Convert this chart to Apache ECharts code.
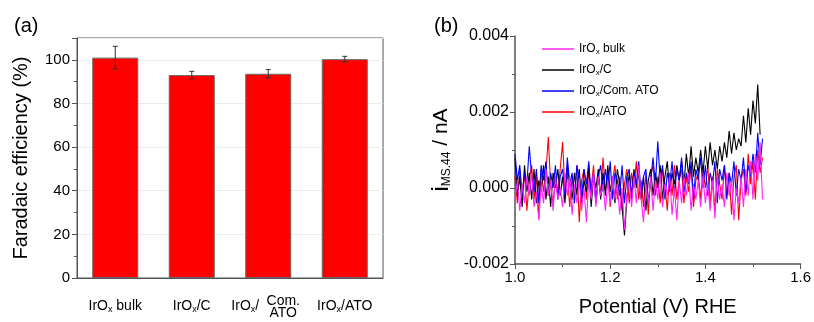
<!DOCTYPE html>
<html>
<head>
<meta charset="utf-8">
<script src="https://cdn.jsdelivr.net/npm/echarts@6/dist/echarts.min.js"></script>
<style>html,body{margin:0;padding:0;background:#fff}#c{width:814px;height:322px}</style>
</head>
<body>
<div id="c"></div>
<script>
// ---- Panel (a) data ----
const categories = ['IrOx bulk', 'IrOx/C', 'IrOx/Com. ATO', 'IrOx/ATO'];
const efficiency = [101.0, 93.0, 93.6, 100.3];
const efficiencyErr = [5.2, 1.7, 1.9, 1.3];
const effTicks = [0, 20, 40, 60, 80, 100];

// ---- Panel (b) data ----
const seriesNames = ['IrOx bulk', 'IrOx/C', 'IrOx/Com. ATO', 'IrOx/ATO'];
const potential = [
1.000,1.005,1.010,1.015,1.020,1.025,1.030,1.035,1.040,1.045,
1.050,1.055,1.060,1.065,1.070,1.075,1.080,1.085,1.090,1.095,
1.100,1.105,1.110,1.115,1.120,1.125,1.130,1.135,1.140,1.145,
1.150,1.155,1.160,1.165,1.170,1.175,1.180,1.185,1.190,1.195,
1.200,1.205,1.210,1.215,1.220,1.225,1.230,1.235,1.240,1.245,
1.250,1.255,1.260,1.265,1.270,1.275,1.280,1.285,1.290,1.295,
1.300,1.305,1.310,1.315,1.320,1.325,1.330,1.335,1.340,1.345,
1.350,1.355,1.360,1.365,1.370,1.375,1.380,1.385,1.390,1.395,
1.400,1.405,1.410,1.415,1.420,1.425,1.430,1.435,1.440,1.445,
1.450,1.455,1.460,1.465,1.470,1.475,1.480,1.485,1.490,1.495,
1.500,1.505,1.510,1.515,1.520];
const iBulk = [
-0.0003,0.0002,-0.0006,0.0001,-0.0004,0.0003,-0.0002,0.0004,-0.0005,-0.0001,
-0.00085,0.0001,-0.0004,0.0005,-0.0002,0.0002,-0.0006,0.0003,-0.0003,0,
-0.0005,0.0004,-0.0002,0.0003,-0.0007,0.0001,-0.0004,0.00025,-0.0006,0,
-0.0009,0.0002,-0.0003,0.0004,-0.0005,0.0003,-0.0002,0.0001,-0.0006,0.0002,
-0.0004,0.0003,-0.0003,0.0001,-0.0007,0,-0.0011,-0.0002,0.0002,-0.0005,
0.0003,-0.0004,0.0006,-0.0003,-0.0009,0.0001,-0.0004,0.0003,-0.0006,0.0002,
-0.0003,0.0004,-0.0005,0.0001,-0.0002,0.0003,-0.0007,0,-0.00085,0.0002,
-0.0004,0.0003,-0.0002,0.0004,-0.0006,0.0001,-0.0003,0.0002,-0.0005,0.0003,
-0.0004,0.0001,-0.0006,0.0002,-0.0008,0.0003,-0.0003,0.0001,-0.0005,0.0004,
-0.0002,0.0002,-0.00085,0,-0.0004,0.0003,-0.0005,0.0005,-0.0002,0.0007,
-0.0003,0.0009,0.0002,0.0012,-0.0003];
const iC = [
0.0008,-0.0002,0.0003,-0.0005,0.0006,-0.0001,0.0004,-0.0003,0.0005,-0.0004,
0.0002,-0.0001,0.0006,-0.0003,0.0003,-0.0005,0.0004,0,0.0005,-0.0002,
0.0003,-0.0004,0.0006,0.0001,-0.0003,0.0004,-0.0002,0.0005,-0.0004,0.0002,
-0.0001,0.0006,-0.0005,0.0003,0,0.0005,-0.0003,0.0004,-0.0002,0.0006,
-0.0001,0.0003,-0.0004,0.0005,0.0001,-0.0005,-0.00125,-0.0003,0.0004,-0.0002,
0.0005,0,0.0004,-0.0003,0.0003,-0.0006,0.0002,0.0005,-0.0002,0.0004,
0,0.0006,-0.0003,0.0003,0.0007,-0.0001,0.0004,0.0001,0.0006,0.0002,
0.0007,0.0001,0.0009,0.0003,0.0011,0.0003,0.0008,0.0004,0.001,0.0004,
0.0011,0.0005,0.0012,0.0006,0.001,0.0005,0.0011,0.0007,0.0012,0.0008,
0.0015,0.0009,0.00145,0.001,0.0013,0.0011,0.0019,0.0012,0.0021,0.0014,
0.0023,0.0017,0.00272,0.0014,null];
const iComATO = [
0.0009,0.0002,0.0006,-0.0002,0.0004,0.0001,0.0011,0.0003,-0.0001,0.0005,
-0.0004,0.0006,0.0002,0.0007,-0.0002,0.0004,0,0.0006,-0.0003,0.0003,
0.0005,-0.0002,0.0008,0.0001,0.0004,-0.0004,0.0006,0.0002,-0.0003,0.0005,
0.0001,0.0007,-0.0002,0.0004,-0.0004,0.0003,0.0006,-0.0001,0.0005,0,
0.0007,-0.0003,0.0004,0.0002,-0.0002,0.0006,-0.0004,0.0003,0.0005,-0.0003,
0.0004,0.0001,0.0007,-0.0002,0.0003,0.0005,-0.0004,0.0002,0.0008,0.0001,
0.00123,0.0002,0.0006,-0.0003,0.0004,0.0001,0.0007,-0.0002,0.0005,0.0002,
0.0008,-0.0001,0.0004,0.0001,0.0007,-0.0003,0.0005,0.0002,0.0008,0,
0.0006,-0.0002,0.0004,0.0001,0.0007,-0.0004,0.0005,0.0002,0.0006,-0.0003,
0.0004,0.0001,0.0007,-0.0002,0.0005,0.0002,0.0008,-0.0001,0.0006,0.0003,
0.0009,0.0004,0.00145,0.0006,0.0013];
const iATO = [
0.0003,-0.0004,0.0005,-0.0002,0.0004,-0.0006,0.0002,0.0006,-0.0003,0.0003,
-0.0008,0.0005,-0.0001,0.0004,0.00134,0,-0.0004,0.0003,-0.0002,0.0005,
0.00121,-0.0001,0.0004,-0.0005,0.0003,-0.0002,0.0006,-0.0009,0.0002,0.0005,
-0.0003,0.0004,0,0.0006,-0.0004,0.0003,-0.0002,0.0008,-0.0001,0.0004,
-0.0005,0.0002,0.0006,-0.0003,0.0003,-0.0006,0.0001,0.0005,-0.0004,0.0004,
0,0.0007,-0.0003,0.0002,-0.0005,0.0004,-0.0007,0.0003,0.0006,-0.0002,
0.0003,-0.0004,0.0005,0.0001,-0.0006,0.0004,-0.0002,0.0006,-0.0003,0.0002,
0.0005,-0.0004,0.0003,-0.0001,0.0006,-0.0005,0.0002,0.0004,-0.0003,0.0005,
0,0.0006,-0.0004,0.0003,-0.0006,0.0005,0.0001,-0.0003,0.0006,-0.0002,
0.0004,-0.0007,0.0003,0.0006,-0.00085,0.0002,0.0005,-0.0002,0.0009,0.0001,
0.0007,-0.0003,0.001,0.0004,0.0008];
const lineColors = ['#ff22ff', '#000000', '#0000ff', '#ff0000'];

const FONT = '"Liberation Sans", Arial, sans-serif';
const AX = '#555';

function zip(xs, ys) { return xs.map((x, i) => [x, ys[i]]); }
function subX(name, key) {
  const rest = name.replace(/^IrOx/, '');
  return '{' + key + '|IrO}{s|x}{' + key + '|' + rest + '}';
}

const chart = echarts.init(document.getElementById('c'), null, { renderer: 'canvas' });

const lineData = [iBulk, iC, iComATO, iATO];
const lineSeries = [3, 1, 2, 0].map(k => ({
  type: 'line', name: seriesNames[k], xAxisIndex: 2, yAxisIndex: 1,
  data: zip(potential, lineData[k]), symbol: 'none', showSymbol: false,
  connectNulls: false, animation: false, z: 2 + (k === 0 ? 3 : 0),
  lineStyle: { width: 1.1, color: lineColors[k] }, itemStyle: { color: lineColors[k] }
}));

const option = {
  animation: false,
  textStyle: { fontFamily: FONT, color: '#000' },
  title: [
    { text: '(a)', left: 9, top: 11, textStyle: { fontSize: 20, fontWeight: 'normal', fontFamily: FONT, color: '#000' } },
    { text: '(b)', left: 429, top: 11, textStyle: { fontSize: 20, fontWeight: 'normal', fontFamily: FONT, color: '#000' } }
  ],
  grid: [
    { left: 77, right: 431, top: 38, bottom: 44, show: true, borderColor: AX, borderWidth: 1, containLabel: false },
    { left: 515, right: 11, top: 36, bottom: 54, containLabel: false }
  ],
  legend: {
    data: seriesNames.map(n => ({ name: n, icon: 'rect' })), orient: 'vertical', left: 537, top: 38,
    itemWidth: 32, itemHeight: 1.5, itemGap: 8,
    formatter: n => subX(n, 'n'),
    textStyle: {
      fontFamily: FONT, fontSize: 12, color: '#000',
      rich: {
        n: { fontSize: 12, lineHeight: 14, fontFamily: FONT },
        s: { fontSize: 8, lineHeight: 9, verticalAlign: 'bottom', fontFamily: FONT }
      }
    }
  },
  xAxis: [
    {
      type: 'category', gridIndex: 0, data: categories,
      axisLine: { lineStyle: { color: AX, width: 1 } },
      axisTick: { alignWithLabel: true, length: 5, lineStyle: { color: AX } },
      splitLine: { show: false },
      axisLabel: {
        margin: 20, color: '#000', interval: 0,
        formatter: v => v.indexOf('Com.') >= 0 ? '{n|IrO}{s|x}{p|/}' : subX(v, 'n'),
        rich: {
          n: { fontSize: 14, lineHeight: 16, fontFamily: FONT, color: '#000' },
          p: { fontSize: 14, lineHeight: 16, fontFamily: FONT, color: '#000', padding: [0, 46, 0, 0] },
          s: { fontSize: 9, lineHeight: 9, verticalAlign: 'bottom', fontFamily: FONT, color: '#000' }
        }
      }
    },
    {
      type: 'category', gridIndex: 0, data: categories, position: 'bottom',
      axisLine: { show: false }, axisTick: { show: false }, splitLine: { show: false },
      axisLabel: {
        margin: 17, interval: 0, color: '#000',
        formatter: v => v.indexOf('Com.') >= 0 ? '{c|' + v.split('/')[1].split(' ').join('}\n{c|') + '}' : '',
        rich: { c: { fontSize: 14, lineHeight: 12, fontFamily: FONT, color: '#000', padding: [0, 0, 0, 30] } }
      }
    },
    {
      type: 'value', gridIndex: 1, min: 1.0, max: 1.6, interval: 0.2,
      name: 'Potential (V) RHE', nameLocation: 'middle', nameGap: 33,
      nameTextStyle: { fontSize: 20, fontFamily: FONT, color: '#000' },
      axisLine: { onZero: false, lineStyle: { color: AX, width: 1.5 } },
      axisTick: { length: 5, lineStyle: { color: AX } },
      minorTick: { show: true, splitNumber: 2, length: 3, lineStyle: { color: AX } },
      splitLine: { show: false },
      axisLabel: { fontSize: 15, color: '#000', margin: 6, formatter: v => v.toFixed(1), showMaxLabel: true }
    }
  ],
  yAxis: [
    {
      type: 'value', gridIndex: 0, min: 0, max: 110, interval: 20,
      name: 'Faradaic efficiency (%)', nameLocation: 'middle', nameGap: 46,
      nameTextStyle: { fontSize: 20, fontFamily: FONT, color: '#000' },
      axisLine: { show: true, lineStyle: { color: AX, width: 1 } },
      axisTick: { show: true, length: 5, lineStyle: { color: AX } },
      minorTick: { show: true, splitNumber: 2, length: 3, lineStyle: { color: AX } },
      splitLine: { show: true, lineStyle: { color: '#ececec', width: 1 } },
      axisLabel: { fontSize: 15, color: '#000', margin: 7, showMaxLabel: false,
        formatter: v => effTicks.indexOf(v) >= 0 ? String(v) : '' }
    },
    {
      type: 'value', gridIndex: 1, min: -0.002, max: 0.004, interval: 0.002,
      name: '{i|i}{sub|MS.44}{t| / nA}', nameLocation: 'middle', nameGap: 62,
      nameTextStyle: {
        fontFamily: FONT, color: '#000',
        rich: {
          i: { fontSize: 24, lineHeight: 24, fontFamily: FONT, color: '#000' },
          sub: { fontSize: 12, lineHeight: 12, verticalAlign: 'bottom', fontFamily: FONT, color: '#000' },
          t: { fontSize: 21, lineHeight: 24, fontFamily: FONT, color: '#000' }
        }
      },
      axisLine: { show: true, onZero: false, lineStyle: { color: AX, width: 1.5 } },
      axisTick: { show: true, length: 5, lineStyle: { color: AX } },
      minorTick: { show: true, splitNumber: 2, length: 3, lineStyle: { color: AX } },
      splitLine: { show: false },
      axisLabel: { fontSize: 16, color: '#000', margin: 6, formatter: v => v.toFixed(3) }
    }
  ],
  series: [
    {
      type: 'bar', xAxisIndex: 0, yAxisIndex: 0, data: efficiency, barWidth: 46,
      itemStyle: { color: '#ff0000', borderColor: '#666', borderWidth: 1 }, z: 2
    },
    {
      type: 'custom', xAxisIndex: 0, yAxisIndex: 0, z: 5,
      data: efficiency.map((v, i) => [i, v - efficiencyErr[i], v + efficiencyErr[i]]),
      renderItem: function (params, api) {
        const lo = api.coord([api.value(0), api.value(1)]);
        const hi = api.coord([api.value(0), api.value(2)]);
        const w = 2.5;
        const st = { stroke: '#333', lineWidth: 1 };
        return {
          type: 'group', children: [
            { type: 'line', shape: { x1: hi[0], y1: hi[1], x2: lo[0], y2: lo[1] }, style: st },
            { type: 'line', shape: { x1: hi[0] - w, y1: hi[1], x2: hi[0] + w, y2: hi[1] }, style: st },
            { type: 'line', shape: { x1: lo[0] - w, y1: lo[1], x2: lo[0] + w, y2: lo[1] }, style: st }
          ]
        };
      }
    }
  ].concat(lineSeries)
};
chart.setOption(option);
</script>
</body>
</html>
